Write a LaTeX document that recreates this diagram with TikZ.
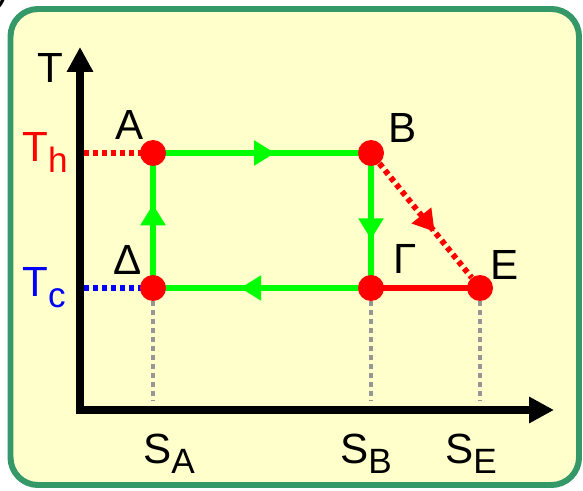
\documentclass[tikz,border=0pt]{standalone}
\usepackage{fontspec}
\setmainfont{Liberation Sans}
\usetikzlibrary{arrows.meta,decorations.markings}
\definecolor{frameGreen}{RGB}{52,152,104}
\definecolor{paleYellow}{RGB}{255,255,204}
\definecolor{cycleGreen}{RGB}{0,255,0}
\definecolor{dropGray}{RGB}{150,150,150}
\pgfdeclarelayer{backdrop}
\pgfdeclarelayer{background}
\pgfsetlayers{backdrop,background,main}
\newcommand\lowsub[1]{\raisebox{-5.7pt}{\fontsize{20}{20}\selectfont #1}}
\begin{document}
\begin{tikzpicture}[
  every node/.style={font=\fontsize{24}{28}\selectfont},
  lbl/.style={inner sep=0, anchor=base west},
  dot/.style={circle, fill=red, inner sep=0, minimum size=0.52cm},
  axis/.style={line width=4pt, -{Triangle[width=0.5cm,length=0.5cm]}},
  cycle/.style={cycleGreen, line width=3.4pt},
  flow/.style={postaction=decorate, decoration={markings,
    mark=at position #1 with {\arrow{Triangle[width=0.48cm,length=0.42cm]}}}},
  guide/.style={line width=3.3pt, dash pattern=on 0.1cm off 0.08cm},
  drop/.style={dropGray, line width=2.8pt, dash pattern=on 0.1cm off 0.08cm}
]
\useasboundingbox (0,0) rectangle (11.66,-9.82);
\node[lbl] (paren) at (-0.1,-0.02) {)};
\begin{pgfonlayer}{backdrop}
\draw[frameGreen, fill=paleYellow, line width=3.4pt, rounded corners=0.55cm]
  (0.21,-0.18) rectangle (11.58,-9.7);
\end{pgfonlayer}

\coordinate (O) at (1.6,-8.2);
\coordinate (ytop) at (1.6,-0.94);
\coordinate (xend) at (11.08,-8.2);
\coordinate (yh) at (1.68,-3.06);
\coordinate (yc) at (1.68,-5.76);
\coordinate (xa) at (3.06,-8.02);
\coordinate (xb) at (7.42,-8.02);
\coordinate (xe) at (9.6,-8.02);
\draw[axis] (O) -- (ytop);
\draw[axis] ([xshift=-2pt]O) -- (xend);

\node[dot] (A) at (3.06,-3.06) {};
\node[dot] (B) at (7.42,-3.06) {};
\node[dot] (D) at (3.06,-5.76) {};
\node[dot] (G) at (7.42,-5.76) {};
\node[dot] (E) at (9.6,-5.76) {};

\begin{pgfonlayer}{background}
\draw[guide, red] (yh) -- (A.center);
\draw[guide, blue] (yc) -- (D.center);
\draw[drop] (D) -- (xa);
\draw[drop] (G) -- (xb);
\draw[drop] (E) -- (xe);
\draw[cycle, flow=0.56] (A.center) -- (B.center);
\draw[cycle, flow=0.64] (B.center) -- (G.center);
\draw[cycle, flow=0.6] (G.center) -- (D.center);
\draw[cycle, flow=0.62] (D.center) -- (A.center);
\draw[red, line width=3.4pt] (G.center) -- (E.center);
\draw[red, guide, flow=0.6] (B) -- (E);
\end{pgfonlayer}

\node[lbl] (Tlbl) at (0.74,-1.66) {T};
\node[lbl, red] (Th) at (0.44,-3.24) {T\lowsub{h}};
\node[lbl, blue] (Tc) at (0.44,-5.94) {T\lowsub{c}};
\node[lbl] (Albl) at (2.3,-2.8) {A};
\node[lbl] (Blbl) at (7.76,-2.86) {B};
\node[lbl] (Dlbl) at (2.26,-5.5) {Δ};
\node[lbl] (Glbl) at (7.86,-5.46) {Γ};
\node[lbl] (Elbl) at (9.8,-5.6) {E};
\node[lbl] (SA) at (2.86,-9.26) {S\lowsub{A}};
\node[lbl] (SB) at (6.8,-9.26) {S\lowsub{B}};
\node[lbl] (SE) at (8.9,-9.26) {S\lowsub{E}};
\end{tikzpicture}
\end{document}
